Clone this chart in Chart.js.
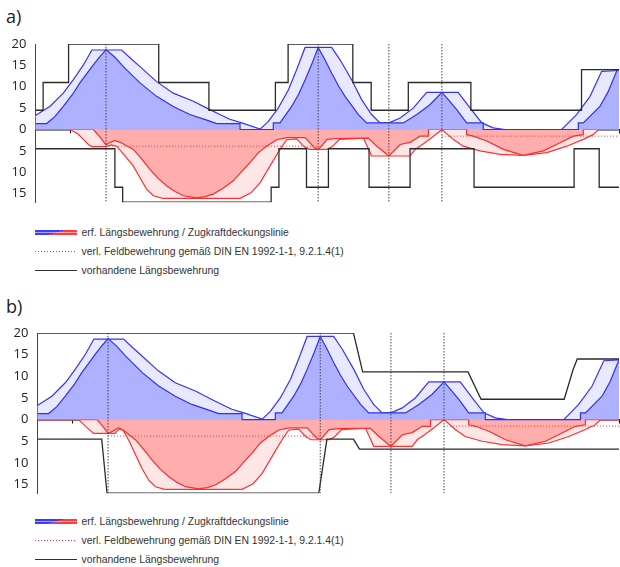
<!DOCTYPE html>
<html>
<head>
<meta charset="utf-8">
<script src="https://cdn.jsdelivr.net/npm/chart.js@4.4.0/dist/chart.umd.min.js"></script>
<style>
  body { margin: 0; background: #fff; width: 620px; height: 567px; position: relative; overflow: hidden; }
  canvas { position: absolute; left: 0; }
  .lbl { position: absolute; left: 6px; font: 18px/18px "Open Sans", sans-serif; color: #222; }
  .leg { position: absolute; left: 35px; font: 10.4px "Liberation Sans", Arial, sans-serif; color: #333; }
  .row { height: 19px; line-height: 19px; position: relative; padding-left: 46.5px; white-space: nowrap; }
  .sym { position: absolute; left: 0; width: 41.5px; }
  .grad { top: 6.5px; height: 5.7px;
    background: linear-gradient(to bottom, transparent 38%, rgba(255,255,255,0.55) 38% 62%, transparent 62%),
                linear-gradient(164deg, #3c3cff 50%, #ff3c3c 50%); }
  .dot { top: 9px; height: 1px; background: repeating-linear-gradient(to right, #ff3030 0 1.2px, transparent 1.2px 3px); }
  .solid { top: 9px; height: 0; border-top: 1.5px solid #333; }
</style>
</head>
<body>
<div class="lbl" style="top:7px">a)</div>
<canvas id="ca" width="620" height="219" style="top:0"></canvas>
<div class="leg" style="top:223px">
  <div class="row"><span class="sym grad"></span>erf. Längsbewehrung / Zugkraftdeckungslinie</div>
  <div class="row"><span class="sym dot"></span>verl. Feldbewehrung gemäß DIN EN 1992-1-1, 9.2.1.4(1)</div>
  <div class="row"><span class="sym solid"></span>vorhandene Längsbewehrung</div>
</div>

<div class="lbl" style="top:297px">b)</div>
<canvas id="cb" width="620" height="221" style="top:289px"></canvas>
<div class="leg" style="top:512px">
  <div class="row"><span class="sym grad"></span>erf. Längsbewehrung / Zugkraftdeckungslinie</div>
  <div class="row"><span class="sym dot"></span>verl. Feldbewehrung gemäß DIN EN 1992-1-1, 9.2.1.4(1)</div>
  <div class="row"><span class="sym solid"></span>vorhandene Längsbewehrung</div>
</div>

<script>
// y ticks (lower half shown as positive numbers)
const yTicks = [20, 15, 10, 5, 0, -5, -10, -15];

// support axes (dotted verticals)
const supports = [2, 8, 10, 11.5];

// required reinforcement top (same in a and b)
const reqTop = [[0,1.4],[0.32,1.4],[0.55,3.0],[0.79,5.4],[1.05,8.2],[1.26,10.9],[1.45,13.0],[1.64,15.1],[1.82,17.0],[2.0,18.7],
  [2.25,16.9],[2.49,14.7],[2.96,10.9],[3.43,7.75],[3.9,5.4],[4.37,3.5],[4.85,2.2],[5.13,1.4],[5.79,1.4],[5.79,0],[6.73,0],
  [6.73,1.55],[6.92,1.55],[7.25,5.4],[7.45,8.3],[7.63,11.6],[7.82,15.3],[8.0,19.2],[8.2,16.2],[8.38,13.2],[8.57,10.3],
  [8.76,7.75],[9.14,3.5],[9.37,1.55],[10.41,1.55],[10.79,3.5],[11.16,5.8],[11.5,8.7],[11.7,6.8],[11.92,4.65],[12.2,1.55],
  [12.67,1.55],[12.67,0],[15.36,0],[15.36,1.55],[15.5,1.55],[15.97,5.4],[16.2,8.8],[16.45,13.8],[16.51,13.8]];

// Zugkraftdeckungslinie top
const zugTop = [[0,3.25],[0.41,5.4],[0.79,8.5],[1.07,11.6],[1.36,15.1],[1.6,18.6],[2.44,18.6],[2.7,16.6],[2.96,14.7],
  [3.43,11.2],[3.9,8.5],[4.47,6.6],[4.85,5.0],[5.22,3.5],[5.5,2.4],[5.84,1.55],[6.36,0.1],[6.59,1.9],[6.87,5.0],[7.16,9.3],
  [7.39,14.0],[7.63,19.2],[8.38,19.2],[8.62,16.3],[8.95,11.6],[9.23,7.0],[9.51,3.5],[9.75,1.55],[10.0,1.55],[10.32,2.7],
  [10.69,5.0],[11.07,8.7],[11.96,8.7],[12.3,5.0],[12.63,1.55],[12.95,0.4],[13.29,0],[14.89,0],[15.31,3.5],[15.69,7.75],
  [16.02,13.6],[16.51,13.8]];

// required reinforcement bottom, panel a
const reqBotA = [[0,0],[1.64,0],[1.8,-1.5],[2.0,-3.6],[2.12,-3.0],[2.25,-2.6],[2.4,-3.0],[2.77,-4.65],[3.0,-6.8],[3.24,-9.3],
  [3.48,-11.5],[3.72,-13.2],[3.95,-14.5],[4.19,-15.5],[4.56,-16.0],[4.8,-15.7],[5.03,-15.1],[5.3,-13.8],[5.6,-12.0],
  [5.84,-9.8],[6.07,-7.75],[6.31,-5.4],[6.54,-3.9],[6.83,-2.4],[7.11,-1.9],[7.63,-1.9],[7.9,-4.3],[8.0,-4.65],[8.1,-3.8],
  [8.25,-2.3],[8.5,-2.1],[9.42,-2.0],[9.66,-3.9],[10.0,-6.2],[10.32,-3.5],[10.6,-3.0],[10.8,-2.0],[10.88,-1.55],
  [11.12,-1.55],[11.12,0],[12.2,0],[12.2,-1.2],[12.39,-1.55],[12.77,-2.7],[13.24,-4.65],[13.8,-6.05],[14.37,-5.0],
  [14.84,-3.1],[15.22,-1.55],[15.5,-1.2],[15.5,0],[16.51,0]];

// Zugkraftdeckungslinie bottom, panel a
const zugBotA = [[0,0],[0.98,0],[1.2,-1.0],[1.36,-2.3],[1.5,-3.5],[1.6,-4.0],[2.0,-4.0],[2.15,-3.6],[2.3,-3.9],[2.5,-5.8],
  [2.77,-8.5],[2.96,-11.3],[3.15,-14.0],[3.34,-15.5],[3.6,-16.1],[5.79,-16.1],[6.1,-14.8],[6.36,-12.4],[6.64,-8.5],
  [6.92,-4.65],[7.11,-2.4],[7.39,-2.2],[7.6,-4.0],[7.75,-4.65],[8.25,-4.65],[8.4,-4.0],[8.6,-2.3],[9.28,-2.0],[9.45,-5.0],
  [9.51,-6.2],[10.6,-6.2],[10.75,-4.6],[10.88,-3.9],[11.2,-2.0],[11.5,0],[11.82,-2.3],[12.1,-3.9],[12.58,-5.0],
  [13.15,-5.8],[13.8,-6.05],[14.47,-5.4],[15.03,-3.9],[15.5,-2.3],[15.78,-1.2],[15.93,0],[16.51,0]];

// required reinforcement bottom, panel b
const reqBotB = [[0,0],[1.69,0],[1.88,-1.85],[2.0,-3.2],[2.15,-2.6],[2.3,-1.85],[2.45,-2.6],[2.77,-4.65],[3.0,-6.8],[3.24,-9.3],
  [3.48,-11.5],[3.72,-13.2],[3.95,-14.5],[4.19,-15.5],[4.56,-16.0],[4.8,-15.7],[5.03,-15.1],[5.3,-13.8],[5.6,-12.0],
  [5.84,-9.8],[6.07,-7.75],[6.31,-5.4],[6.54,-3.9],[6.83,-2.4],[7.11,-1.9],[7.63,-1.9],[7.9,-4.3],[8.0,-4.65],[8.1,-3.8],
  [8.25,-2.3],[8.5,-2.1],[9.42,-2.0],[9.66,-3.9],[10.0,-6.2],[10.32,-3.5],[10.6,-3.0],[10.8,-2.0],[10.88,-1.55],
  [11.12,-1.55],[11.12,0],[12.2,0],[12.2,-1.2],[12.39,-1.55],[12.77,-2.7],[13.24,-4.65],[13.8,-6.05],[14.37,-5.0],
  [14.84,-3.1],[15.22,-1.55],[15.5,-1.2],[15.5,0],[16.51,0]];

// Zugkraftdeckungslinie bottom, panel b
const zugBotB = [[0,0],[1.17,0],[1.4,-1.85],[1.59,-3.2],[2.2,-3.2],[2.3,-2.2],[2.42,-2.4],[2.6,-5.0],[2.77,-8.0],
  [2.96,-11.3],[3.15,-14.0],[3.34,-15.5],[3.6,-16.1],[5.79,-16.1],[6.1,-14.8],[6.36,-12.4],[6.64,-8.5],
  [6.92,-4.65],[7.11,-2.4],[7.39,-2.2],[7.6,-4.0],[7.75,-4.65],[8.25,-4.65],[8.4,-4.0],[8.6,-2.3],[9.28,-2.0],[9.45,-5.0],
  [9.51,-6.2],[10.6,-6.2],[10.75,-4.6],[10.88,-3.9],[11.2,-2.0],[11.5,0],[11.82,-2.3],[12.1,-3.9],[12.58,-5.0],
  [13.15,-5.8],[13.8,-6.05],[14.47,-5.4],[15.03,-3.9],[15.5,-2.3],[15.78,-1.2],[15.93,0],[16.51,0]];

// vorhandene Längsbewehrung, panel a (value holds from x onwards)
const barTopA = [[0,4.5],[0.22,11],[0.94,20],[3.49,11],[4.91,4.5],[6.79,11],[7.15,20],[8.98,11],[9.5,4.5],[10.55,11],
  [12.32,4.5],[15.45,14],[16.51,14]];
const barBotA = [[0,-4.5],[2.25,-13.5],[2.47,-17],[6.67,-13.5],[6.89,-4.5],[7.67,-13.5],[8.29,-4.5],[9.44,-13.5],
  [10.6,-4.5],[12.41,-13.5],[15.24,-4.5],[15.95,-13.5],[16.51,-13.5]];

// vorhandene Längsbewehrung, panel b (sloped)
const barTopB = [[0,20],[8.94,20],[9.2,11],[12.18,11],[12.55,4.7],[14.9,4.7],[15.15,11.5],[15.27,14],[16.45,14]];
const barBotB = [[0,-4.5],[1.82,-4.5],[1.97,-17],[7.96,-17],[8.19,-4.5],[8.94,-4.5],[9.11,-6.8],[16.45,-6.8]];

// verl. Feldbewehrung
const feldA = [[2,-3.9],[8,-3.9],[8,null],[11.5,-1.55],[16.51,-1.55]];
const feldB = [[2,-3.8],[8,-3.8],[8,null],[11.5,-1.5],[16.45,-1.5]];

const pts = a => a.map(p => ({ x: p[0], y: p[1] }));

function panel(id, o) {
  const yMin = -17, yMax = 20;
  const vert = o.sup.flatMap(x => [{ x: x, y: yMax }, { x: x, y: yMin }, { x: x, y: null }]);
  const line = (data, color, width, extra) => Object.assign({
    data: pts(data), borderColor: color, borderWidth: width, pointRadius: 0, fill: false, tension: 0
  }, extra || {});
  new Chart(document.getElementById(id), {
    type: 'line',
    data: {
      datasets: [
        { data: vert, borderColor: '#444', borderWidth: 1, borderDash: [1.5, 1.5], pointRadius: 0, fill: false },
        line(o.barTop, '#2a2a2a', 1.3, { stepped: o.stepped }),
        line(o.barBot, '#2a2a2a', 1.3, { stepped: o.stepped }),
        line(o.feld, '#ff3a3a', 1, { borderDash: [1, 2] }),
        line(reqTop, '#3030f0', 1.2, { fill: 'origin', backgroundColor: '#adb1ff' }),
        line(o.reqBot, '#ff2a2a', 1.2, { fill: 'origin', backgroundColor: '#ffadad' }),
        line(zugTop, '#3434f4', 1.2, { fill: 'origin', backgroundColor: '#e8e9ff' }),
        line(o.zugBot, '#ff3030', 1.2, { fill: 'origin', backgroundColor: '#ffe6e6' })
      ]
    },
    options: {
      responsive: false,
      animation: false,
      devicePixelRatio: 1,
      events: [],
      layout: { padding: { top: 44, right: 1, bottom: o.padBottom, left: 0 } },
      plugins: { legend: { display: false }, tooltip: { enabled: false } },
      scales: {
        x: {
          type: 'linear', min: 0, max: o.xMax, position: { y: 0 },
          afterFit: s => { s.height = 0; },
          ticks: { display: false, stepSize: 1 },
          grid: { drawOnChartArea: false, drawTicks: true, tickLength: 3, color: '#111' },
          border: { display: true, color: '#111', width: 1.5 }
        },
        y: {
          min: yMin, max: yMax,
          afterBuildTicks: s => { s.ticks = yTicks.map(v => ({ value: v })); },
          afterFit: s => { s.width = o.left; },
          ticks: { autoSkip: false, callback: v => Math.abs(v), color: '#222', padding: 9,
                   font: { family: 'Open Sans', size: 13 } },
          grid: { drawOnChartArea: false, drawTicks: false },
          border: { display: true, color: '#444', width: 1 }
        }
      }
    }
  });
}

panel('ca', { sup: supports, barTop: barTopA, barBot: barBotA, stepped: true, feld: feldA,
  reqBot: reqBotA, zugBot: zugBotA, xMax: 16.51, left: 35.35, padBottom: 7 });
panel('cb', { sup: supports, barTop: barTopB, barBot: barBotB, stepped: false, feld: feldB,
  reqBot: reqBotB, zugBot: zugBotB, xMax: 16.45, left: 37.35, padBottom: 6 });
</script>
</body>
</html>
